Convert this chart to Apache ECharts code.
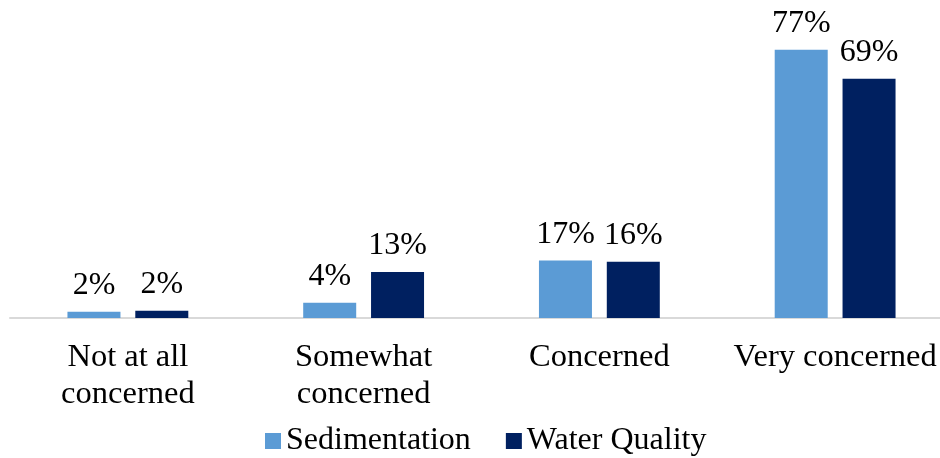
<!DOCTYPE html>
<html>
<head>
<meta charset="utf-8">
<title>Concern levels</title>
<script src="https://cdn.jsdelivr.net/npm/echarts@6/dist/echarts.min.js"></script>
<style>
  html, body { margin: 0; padding: 0; background: #fff; overflow: hidden; }
  /* 图表区比窗口略宽，使最右侧分类的位置与原图一致 */
  #chart { width: 953px; height: 458px; }
</style>
</head>
<body>
<div id="chart"></div>
<script>
// 数据：从图中读取
const categories = ["Not at all\nconcerned", "Somewhat\nconcerned", "Concerned", "Very concerned"];
const sedimentation = [1.8, 4.4, 16.5, 77.1];
const waterQuality = [2.1, 13.2, 16.2, 68.8];

const FONT = "'Liberation Serif', 'Times New Roman', serif";

const chart = echarts.init(document.getElementById("chart"), null, { renderer: "canvas" });

const barLabel = {
  show: true,
  position: "top",
  distance: 10,
  color: "#000",
  fontFamily: FONT,
  fontSize: 32,
  formatter: (p) => Math.round(p.value) + "%",
};

chart.setOption({
  animation: false,
  textStyle: { fontFamily: FONT },
  grid: { left: 10, top: 5, right: 0, height: 313 },
  legend: {
    left: 260,
    top: 420,
    itemWidth: 16,
    itemHeight: 16,
    itemGap: 35,
    icon: "rect",
    textStyle: { color: "#000", fontFamily: FONT, fontSize: 32, padding: [0, 0, 0, 0] },
    data: ["Sedimentation", "Water Quality"],
  },
  xAxis: {
    type: "category",
    data: categories,
    axisLine: { lineStyle: { color: "#d9d9d9", width: 2 } },
    axisTick: { show: false },
    axisLabel: {
      color: "#000",
      fontFamily: FONT,
      fontSize: 32.5,
      lineHeight: 37,
      margin: 21,
      interval: 0,
    },
  },
  yAxis: {
    type: "value",
    min: 0,
    max: 90,
    show: false,
    splitLine: { show: false },
  },
  series: [
    {
      name: "Sedimentation",
      type: "bar",
      data: sedimentation,
      barWidth: 53,
      barGap: "28%",
      itemStyle: { color: "#5B9BD5" },
      label: barLabel,
    },
    {
      name: "Water Quality",
      type: "bar",
      data: waterQuality,
      barWidth: 53,
      itemStyle: { color: "#002060" },
      label: barLabel,
    },
  ],
});
</script>
</body>
</html>
